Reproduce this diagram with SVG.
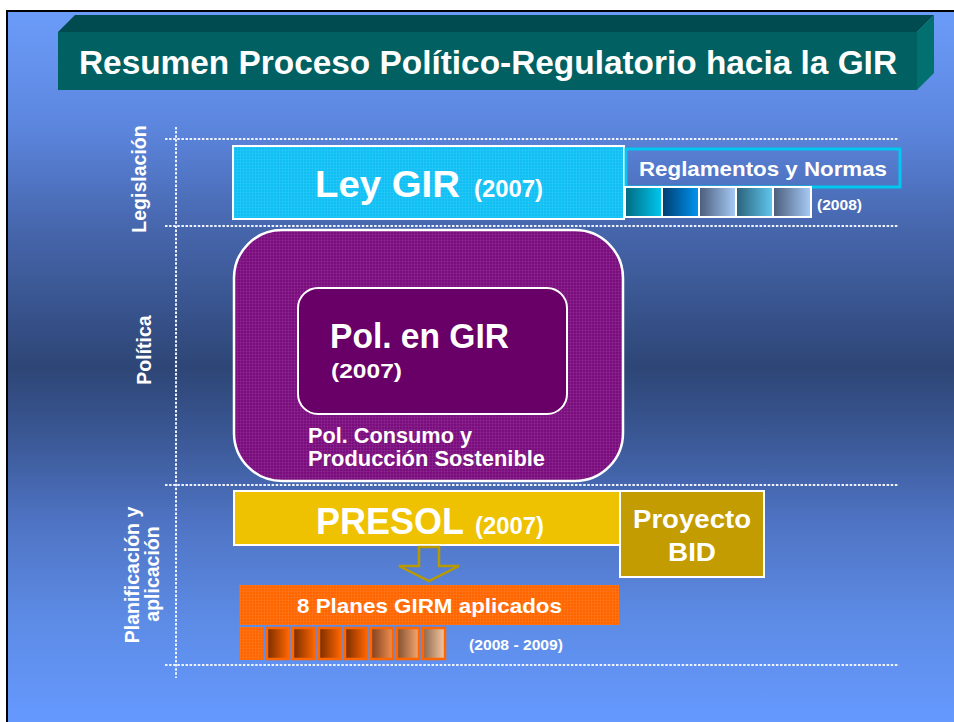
<svg xmlns="http://www.w3.org/2000/svg" width="954" height="722" viewBox="0 0 954 722">
  <defs>
    <linearGradient id="bg" gradientUnits="userSpaceOnUse" x1="0" y1="12" x2="0" y2="722">
      <stop offset="0" stop-color="#6B9CF9"/>
      <stop offset="0.16" stop-color="#5C86DE"/>
      <stop offset="0.30" stop-color="#4767AE"/>
      <stop offset="0.50" stop-color="#2E4676"/>
      <stop offset="0.60" stop-color="#3B5896"/>
      <stop offset="0.72" stop-color="#4F74C4"/>
      <stop offset="0.86" stop-color="#5D8CE6"/>
      <stop offset="1" stop-color="#6699FF"/>
    </linearGradient>
    <pattern id="tex" width="3" height="3" patternUnits="userSpaceOnUse">
      <rect x="0" y="0" width="3" height="1" fill="#ffffff" opacity="0.06"/>
      <rect x="0" y="0" width="1" height="3" fill="#ffffff" opacity="0.06"/>
    </pattern>
    <linearGradient id="g1"><stop offset="0" stop-color="#006A80"/><stop offset="1" stop-color="#00C8F0"/></linearGradient>
    <linearGradient id="g2"><stop offset="0" stop-color="#003C70"/><stop offset="1" stop-color="#0096F0"/></linearGradient>
    <linearGradient id="g3"><stop offset="0" stop-color="#4A5C7A"/><stop offset="1" stop-color="#A8CCF8"/></linearGradient>
    <linearGradient id="g4"><stop offset="0" stop-color="#2A6078"/><stop offset="1" stop-color="#60C8F0"/></linearGradient>
    <linearGradient id="o1"><stop offset="0" stop-color="#782C00"/><stop offset="1" stop-color="#FF6600"/></linearGradient>
    <linearGradient id="o2"><stop offset="0" stop-color="#804020"/><stop offset="1" stop-color="#F29050"/></linearGradient>
    <linearGradient id="o3"><stop offset="0" stop-color="#805030"/><stop offset="1" stop-color="#F8A870"/></linearGradient>
    <linearGradient id="o4"><stop offset="0" stop-color="#8A6850"/><stop offset="1" stop-color="#FAC8A0"/></linearGradient>
  </defs>
  <style>
    text { font-family: "Liberation Sans", Arial, sans-serif; font-weight: bold; fill: #ffffff; }
    .dot { stroke: #EEF3FF; stroke-width: 2; stroke-dasharray: 2.5 1.6; fill: none; }
    .wb { stroke: #ffffff; stroke-width: 2; }
    .sq { stroke: #ffffff; stroke-width: 2; }
    .osq { stroke: #FF6600; stroke-width: 2.5; }
    .lab { font-size: 19.5px; }
  </style>

  <!-- slide background and frame -->
  <rect x="0" y="0" width="954" height="722" fill="#ffffff"/>
  <rect x="7" y="11" width="947" height="711" fill="url(#bg)"/>
  <line x1="6" y1="11" x2="954" y2="11" stroke="#000000" stroke-width="2"/>
  <line x1="7" y1="10" x2="7" y2="722" stroke="#000000" stroke-width="2"/>

  <!-- title -->
  <g id="title">
    <polygon points="58,32 75,15 934,15 917,32" fill="#004B4F"/>
    <rect x="58" y="32" width="859" height="58" fill="#016061"/>
    <polygon points="917,32 934,15 934,73 917,90" fill="#01706F"/>
    <text x="79" y="74" font-size="33" textLength="818" lengthAdjust="spacingAndGlyphs">Resumen Proceso Político-Regulatorio hacia la GIR</text>
  </g>

  <!-- grid lines -->
  <g id="grid">
    <line class="dot" x1="165" y1="139" x2="899" y2="139"/>
    <line class="dot" x1="165" y1="226" x2="899" y2="226"/>
    <line class="dot" x1="165" y1="485" x2="899" y2="485"/>
    <line class="dot" x1="165" y1="665" x2="899" y2="665"/>
    <line class="dot" x1="176" y1="127" x2="176" y2="678"/>
  </g>

  <!-- row labels -->
  <g id="labels">
    <text class="lab" transform="translate(146,179) rotate(-90)" text-anchor="middle">Legislación</text>
    <text class="lab" transform="translate(151,350) rotate(-90)" text-anchor="middle">Política</text>
    <text class="lab" transform="translate(139,575) rotate(-90)" text-anchor="middle">Planificación y</text>
    <text class="lab" transform="translate(159,574) rotate(-90)" text-anchor="middle">aplicación</text>
  </g>

  <!-- Ley GIR -->
  <g id="ley">
    <rect x="233" y="146" width="391" height="73" fill="#10C0F4"/>
    <rect x="233" y="146" width="391" height="73" fill="url(#tex)" class="wb"/>
    <text x="315" y="197" font-size="37" textLength="145" lengthAdjust="spacingAndGlyphs">Ley GIR</text>
    <text x="474" y="197" font-size="23" textLength="69" lengthAdjust="spacingAndGlyphs">(2007)</text>
  </g>

  <!-- Reglamentos -->
  <g id="reglamentos">
    <rect x="626" y="149" width="274" height="38" fill="none" stroke="#00C8F0" stroke-width="3"/>
    <text x="639" y="176" font-size="21" textLength="248" lengthAdjust="spacingAndGlyphs">Reglamentos y Normas</text>
    <rect class="sq" x="625" y="187" width="37" height="30" fill="url(#g1)"/>
    <rect class="sq" x="662" y="187" width="37" height="30" fill="url(#g2)"/>
    <rect class="sq" x="699" y="187" width="37" height="30" fill="url(#g3)"/>
    <rect class="sq" x="736" y="187" width="37" height="30" fill="url(#g4)"/>
    <rect class="sq" x="773" y="187" width="38" height="30" fill="url(#g3)"/>
    <text x="817" y="210" font-size="15" textLength="45" lengthAdjust="spacingAndGlyphs">(2008)</text>
  </g>

  <!-- Politica -->
  <g id="pol-consumo">
    <rect x="234" y="230" width="389" height="251" rx="48" ry="48" fill="#7B0D7E"/>
    <rect x="234" y="230" width="389" height="251" rx="48" ry="48" fill="url(#tex)" stroke="#ffffff" stroke-width="2.5"/>
    <text x="308" y="443" font-size="22" textLength="164" lengthAdjust="spacingAndGlyphs">Pol. Consumo y</text>
    <text x="308" y="466" font-size="22" textLength="237" lengthAdjust="spacingAndGlyphs">Producción Sostenible</text>
  </g>
  <g id="pol-gir">
    <rect x="298" y="288" width="269" height="126" rx="20" ry="20" fill="#680068" stroke="#ffffff" stroke-width="2"/>
    <text x="330" y="348" font-size="35" textLength="179" lengthAdjust="spacingAndGlyphs">Pol. en GIR</text>
    <text x="331" y="378" font-size="20" textLength="71" lengthAdjust="spacingAndGlyphs">(2007)</text>
  </g>

  <!-- PRESOL -->
  <g id="presol">
    <rect class="wb" x="234" y="491" width="386" height="54" fill="#EEC200"/>
    <text x="316" y="534" font-size="37" textLength="148" lengthAdjust="spacingAndGlyphs">PRESOL</text>
    <text x="475" y="534" font-size="23" textLength="69" lengthAdjust="spacingAndGlyphs">(2007)</text>
  </g>

  <!-- Proyecto BID -->
  <g id="bid">
    <rect class="wb" x="620" y="491" width="144" height="86" fill="#C29C00"/>
    <text x="692" y="528" font-size="26" text-anchor="middle" textLength="118" lengthAdjust="spacingAndGlyphs">Proyecto</text>
    <text x="692" y="561" font-size="26" text-anchor="middle" textLength="48" lengthAdjust="spacingAndGlyphs">BID</text>
  </g>

  <!-- connectors -->
  <g id="connectors">
    <polygon points="419,547 439,547 439,566 459,566 429,581 399,566 419,566" fill="none" stroke="#B89A00" stroke-width="2.5" stroke-linejoin="miter"/>
  </g>

  <!-- Planes GIRM -->
  <g id="planes">
    <rect x="239" y="585" width="380" height="40" fill="#FF6600"/>
    <rect x="239" y="585" width="380" height="40" fill="url(#tex)"/>
    <text x="297" y="613" font-size="21" textLength="265" lengthAdjust="spacingAndGlyphs">8 Planes GIRM aplicados</text>
    <rect x="239" y="627" width="24" height="33" fill="#FF6600"/>
    <rect x="239" y="627" width="24" height="33" fill="url(#tex)"/>
    <rect class="osq" x="267" y="628" width="22" height="31" fill="url(#o1)"/>
    <rect class="osq" x="293" y="628" width="22" height="31" fill="url(#o1)"/>
    <rect class="osq" x="319" y="628" width="22" height="31" fill="url(#o1)"/>
    <rect class="osq" x="345" y="628" width="22" height="31" fill="url(#o1)"/>
    <rect class="osq" x="371" y="628" width="22" height="31" fill="url(#o2)"/>
    <rect class="osq" x="397" y="628" width="22" height="31" fill="url(#o3)"/>
    <rect class="osq" x="423" y="628" width="22" height="31" fill="url(#o4)"/>
    <text x="469" y="650" font-size="15.5" textLength="94" lengthAdjust="spacingAndGlyphs">(2008 - 2009)</text>
  </g>
</svg>
